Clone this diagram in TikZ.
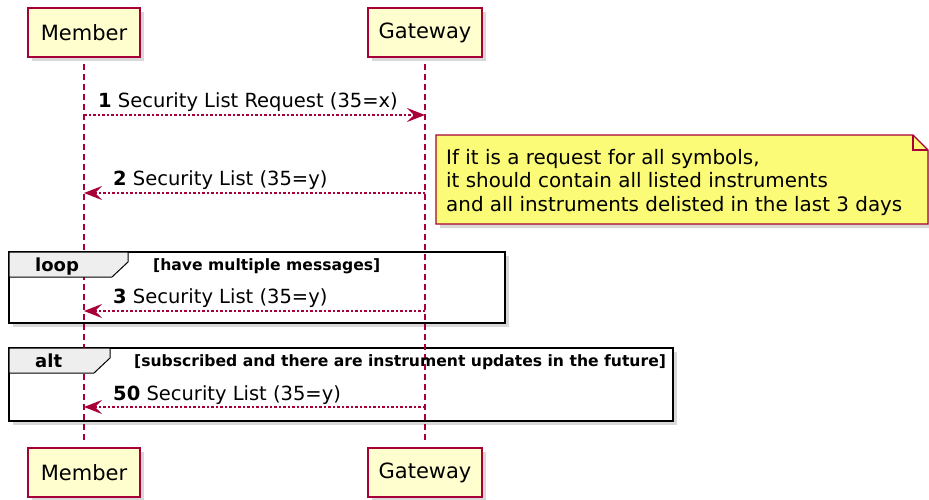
\documentclass[tikz,border=0pt]{standalone}
\usepackage{fontspec}
\setmainfont{DejaVu Sans}
\usetikzlibrary{arrows.meta,shadows}
\definecolor{umlred}{HTML}{A80036}
\definecolor{partfill}{HTML}{FEFECE}
\definecolor{notefill}{HTML}{FBFB77}
\definecolor{tabfill}{HTML}{EEEEEE}
\begin{document}
\begin{tikzpicture}
	[
	x=1pt,y=-1pt,
	umlshadow/.style={drop shadow={shadow xshift=4pt,shadow yshift=-4pt,fill=black!30}},
	party/.style={rectangle,draw=umlred,line width=1.6pt,fill=partfill,minimum width=112pt,minimum height=49pt,inner sep=0pt,font=\fontsize{21}{25}\selectfont,umlshadow},
	lifeline/.style={draw=umlred,line width=1.4pt,dash pattern=on 6pt off 4pt},
	msg/.style={draw=umlred,line width=1.3pt,dash pattern=on 2.5pt off 2pt,-{Stealth[length=18pt,width=14pt,inset=7pt]}},
	msglabel/.style={anchor=base west,inner sep=0pt,font=\fontsize{19.5}{23}\selectfont},
	grouping/.style={draw=black,line width=2.8pt,fill=white,umlshadow},
	grouptab/.style={draw=black,line width=1pt,fill=tabfill},
	tabname/.style={anchor=base west,inner sep=0pt,font=\bfseries\fontsize{18}{22}\selectfont},
	guard/.style={anchor=base west,inner sep=0pt,font=\bfseries\fontsize{15.6}{19}\selectfont},
	notebox/.style={draw=umlred,line width=1.3pt,fill=notefill,umlshadow},
	notetext/.style={anchor=north west,align=left,inner sep=0pt,font=\fontsize{19.9}{23.5}\selectfont},
	]
	\useasboundingbox (0,0) rectangle (929,499);
	\node[party] (mtop) at (84,32.5) {Member};
	\node[party,minimum width=114pt] (gtop) at (425,32.5) {Gateway};
	\node[party] (mbot) at (84,472.5) {Member};
	\node[party,minimum width=114pt] (gbot) at (425,472.5) {Gateway};
	\draw[grouping] (9,252) rectangle (505,323);
	\draw[grouping] (9,348) rectangle (673,421);
	\draw[lifeline] ([yshift=-6pt]mtop.south) -- ([yshift=6pt]mbot.north);
	\draw[lifeline] ([yshift=-6pt]gtop.south) -- ([yshift=6pt]gbot.north);
	\draw[grouptab] (9,252) -- (128,252) -- (128,262) -- (112,277) -- (9,277) -- cycle;
	\node[tabname] (looptag) at (35,271) {loop};
	\node[guard] (loopguard) at (153,270) {[have multiple messages]};
	\draw[grouptab] (9,348) -- (110,348) -- (110,358) -- (94,373) -- (9,373) -- cycle;
	\node[tabname] (alttag) at (35,367) {alt};
	\node[guard] (altguard) at (134,366) {[subscribed and there are instrument updates in the future]};
	\coordinate (m1) at (mtop |- 0,115);
	\coordinate (g1) at (gtop |- 0,115);
	\coordinate (m2) at (mtop |- 0,193);
	\coordinate (g2) at (gtop |- 0,193);
	\coordinate (m3) at (mtop |- 0,311);
	\coordinate (g3) at (gtop |- 0,311);
	\coordinate (m50) at (mtop |- 0,407);
	\coordinate (g50) at (gtop |- 0,407);
	\draw[msg] (m1) -- (g1);
	\node[msglabel] (l1) at (98,107) {\textbf{1} Security List Request (35=x)};
	\draw[msg] (g2) -- (m2);
	\node[msglabel] (l2) at (113,185) {\textbf{2} Security List (35=y)};
	\draw[msg] (g3) -- (m3);
	\node[msglabel] (l3) at (113,303) {\textbf{3} Security List (35=y)};
	\draw[msg] (g50) -- (m50);
	\node[msglabel] (l50) at (113,400) {\textbf{50} Security List (35=y)};
	\draw[notebox] (436,135) -- (913,135) -- (928,150) -- (928,224) -- (436,224) -- cycle;
	\draw[draw=umlred,line width=1.3pt] (913,135) -- (913,150) -- (928,150);
	\node[notetext] (note) at (446,149) {If it is a request for all symbols,\\it should contain all listed instruments\\and all instruments delisted in the last 3 days};
\end{tikzpicture}
\end{document}
